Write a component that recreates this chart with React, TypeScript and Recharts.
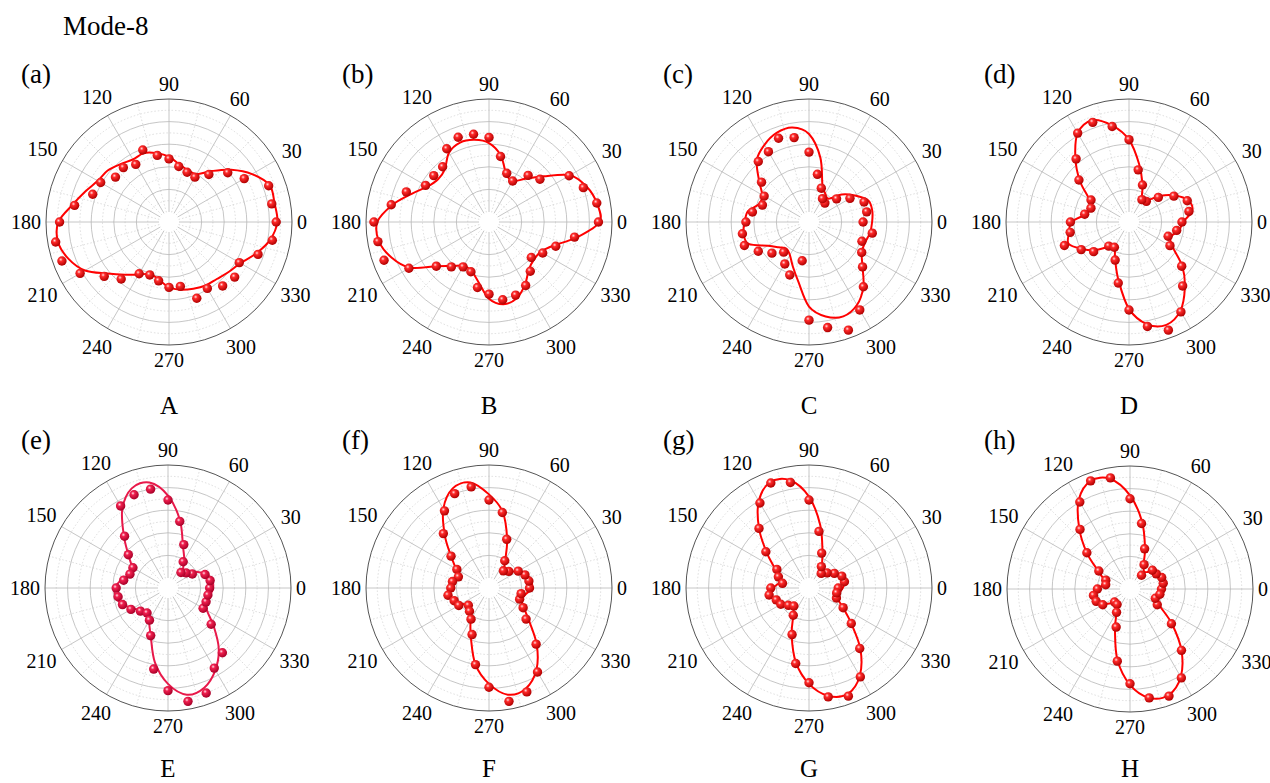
import { RadarChart, Radar, PolarGrid, PolarAngleAxis, PolarRadiusAxis } from "recharts";

const angles = [0, 10, 20, 30, 40, 50, 60, 70, 80, 90, 100, 110, 120, 130, 140, 150, 160, 170, 180, 190, 200, 210, 220, 230, 240, 250, 260, 270, 280, 290, 300, 310, 320, 330, 340, 350];
const tickAngles = [0, 30, 60, 90, 120, 150, 180, 210, 240, 270, 300, 330];

const pointsA = [0.86, 0.835, 0.85, 0.68, 0.59, 0.46, 0.37, 0.38, 0.41, 0.47, 0.51, 0.59, 0.5, 0.54, 0.53, 0.61, 0.63, 0.76, 0.88, 0.93, 0.92, 0.82, 0.66, 0.57, 0.44, 0.41, 0.44, 0.49, 0.49, 0.63, 0.59, 0.65, 0.67, 0.63, 0.75, 0.84];
const fitA = [0.87, 0.86, 0.86, 0.76, 0.63, 0.5, 0.4, 0.4, 0.43, 0.49, 0.53, 0.56, 0.55, 0.58, 0.62, 0.64, 0.7, 0.78, 0.89, 0.91, 0.86, 0.77, 0.62, 0.52, 0.45, 0.4, 0.43, 0.49, 0.52, 0.54, 0.56, 0.57, 0.6, 0.64, 0.73, 0.82];

const pointsB = [0.88, 0.88, 0.8, 0.73, 0.5, 0.45, 0.33, 0.37, 0.5, 0.66, 0.7, 0.71, 0.66, 0.55, 0.55, 0.56, 0.69, 0.79, 0.93, 0.91, 0.9, 0.73, 0.52, 0.43, 0.37, 0.38, 0.5, 0.55, 0.61, 0.6, 0.56, 0.48, 0.4, 0.46, 0.54, 0.68];
const fitB = [0.89, 0.88, 0.83, 0.74, 0.54, 0.41, 0.33, 0.36, 0.51, 0.61, 0.65, 0.66, 0.62, 0.52, 0.5, 0.54, 0.64, 0.78, 0.9, 0.9, 0.83, 0.72, 0.52, 0.42, 0.36, 0.37, 0.45, 0.59, 0.65, 0.63, 0.55, 0.46, 0.43, 0.44, 0.52, 0.7];

const pointsC = [0.39, 0.43, 0.43, 0.33, 0.23, 0.13, 0.15, 0.23, 0.34, 0.53, 0.67, 0.7, 0.63, 0.61, 0.46, 0.37, 0.35, 0.42, 0.47, 0.51, 0.52, 0.43, 0.34, 0.26, 0.34, 0.41, 0.26, 0.78, 0.86, 0.93, 0.81, 0.66, 0.53, 0.45, 0.41, 0.48];
const fitC = [0.47, 0.48, 0.47, 0.38, 0.29, 0.18, 0.2, 0.26, 0.49, 0.69, 0.76, 0.75, 0.7, 0.63, 0.49, 0.39, 0.38, 0.46, 0.48, 0.5, 0.48, 0.33, 0.26, 0.22, 0.25, 0.33, 0.45, 0.66, 0.76, 0.8, 0.76, 0.66, 0.53, 0.45, 0.44, 0.46];

const pointsD = [0.38, 0.45, 0.46, 0.37, 0.25, 0.15, 0.14, 0.26, 0.38, 0.64, 0.77, 0.85, 0.82, 0.64, 0.49, 0.3, 0.27, 0.31, 0.43, 0.44, 0.52, 0.4, 0.32, 0.19, 0.17, 0.27, 0.46, 0.69, 0.85, 0.93, 0.83, 0.65, 0.52, 0.33, 0.28, 0.34];
const fitD = [0.39, 0.48, 0.47, 0.38, 0.27, 0.16, 0.14, 0.26, 0.43, 0.64, 0.78, 0.87, 0.82, 0.65, 0.48, 0.32, 0.27, 0.3, 0.42, 0.45, 0.48, 0.39, 0.3, 0.2, 0.17, 0.27, 0.44, 0.68, 0.83, 0.88, 0.82, 0.68, 0.53, 0.36, 0.3, 0.36];

const pointsE = [0.28, 0.29, 0.26, 0.16, 0.12, 0.09, 0.18, 0.32, 0.51, 0.69, 0.8, 0.79, 0.75, 0.51, 0.37, 0.27, 0.27, 0.31, 0.37, 0.36, 0.34, 0.29, 0.23, 0.2, 0.24, 0.36, 0.64, 0.82, 0.93, 0.9, 0.73, 0.66, 0.41, 0.27, 0.27, 0.27];
const fitE = [0.31, 0.31, 0.27, 0.2, 0.13, 0.12, 0.2, 0.3, 0.52, 0.73, 0.86, 0.85, 0.72, 0.52, 0.37, 0.28, 0.27, 0.33, 0.38, 0.38, 0.34, 0.27, 0.22, 0.2, 0.25, 0.36, 0.58, 0.76, 0.87, 0.85, 0.75, 0.61, 0.44, 0.31, 0.28, 0.29];

const pointsF = [0.27, 0.27, 0.25, 0.21, 0.14, 0.11, 0.19, 0.37, 0.59, 0.69, 0.82, 0.8, 0.7, 0.54, 0.35, 0.24, 0.2, 0.24, 0.25, 0.28, 0.24, 0.22, 0.15, 0.18, 0.23, 0.35, 0.6, 0.79, 0.93, 0.89, 0.77, 0.56, 0.34, 0.26, 0.2, 0.2];
const fitF = [0.29, 0.29, 0.26, 0.2, 0.14, 0.12, 0.2, 0.38, 0.6, 0.74, 0.86, 0.85, 0.72, 0.52, 0.35, 0.25, 0.22, 0.24, 0.27, 0.28, 0.25, 0.19, 0.15, 0.17, 0.24, 0.38, 0.6, 0.76, 0.87, 0.86, 0.75, 0.57, 0.38, 0.27, 0.22, 0.24];

const pointsG = [0.17, 0.23, 0.22, 0.17, 0.12, 0.08, 0.13, 0.24, 0.42, 0.69, 0.86, 0.9, 0.78, 0.6, 0.41, 0.24, 0.2, 0.15, 0.25, 0.27, 0.22, 0.2, 0.15, 0.12, 0.19, 0.35, 0.59, 0.75, 0.89, 0.93, 0.82, 0.61, 0.4, 0.26, 0.17, 0.16];
const fitG = [0.21, 0.23, 0.22, 0.17, 0.12, 0.1, 0.14, 0.26, 0.48, 0.72, 0.88, 0.91, 0.8, 0.6, 0.4, 0.26, 0.19, 0.18, 0.23, 0.25, 0.22, 0.19, 0.15, 0.13, 0.19, 0.36, 0.58, 0.76, 0.88, 0.91, 0.81, 0.62, 0.4, 0.26, 0.18, 0.18];

const pointsH = [0.19, 0.21, 0.21, 0.18, 0.17, 0.07, 0.16, 0.29, 0.5, 0.71, 0.91, 0.93, 0.8, 0.6, 0.41, 0.23, 0.14, 0.13, 0.2, 0.24, 0.23, 0.19, 0.09, 0.09, 0.15, 0.27, 0.56, 0.75, 0.89, 0.92, 0.82, 0.62, 0.39, 0.19, 0.15, 0.18];
const fitH = [0.2, 0.22, 0.21, 0.18, 0.15, 0.11, 0.15, 0.3, 0.52, 0.74, 0.9, 0.93, 0.82, 0.61, 0.41, 0.24, 0.16, 0.15, 0.2, 0.23, 0.22, 0.17, 0.11, 0.1, 0.15, 0.3, 0.55, 0.76, 0.89, 0.91, 0.81, 0.62, 0.4, 0.22, 0.16, 0.18];

const FONT = "'Liberation Serif', 'Times New Roman', serif";
const W = 320;
const H = 340;
const CX = 160;
const CY = 170;
const R = 123;
const HOLE = 10;

// ring radii in px, alternating dotted / solid
const ringStep = (R - HOLE) / 10;
const minorRings = [1, 3, 5, 7, 9].map((k) => HOLE + k * ringStep);
const majorRings = [2, 4, 6, 8].map((k) => HOLE + k * ringStep);
const minorSpokes = tickAngles.map((a) => a + 15);

const panels = [
  { tag: "(a)", name: "A", x: 169, y: 222, pts: pointsA, fit: fitA, color: "#ff0000", grad: "ballRed" },
  { tag: "(b)", name: "B", x: 489, y: 222, pts: pointsB, fit: fitB, color: "#ff0000", grad: "ballRed" },
  { tag: "(c)", name: "C", x: 809, y: 222, pts: pointsC, fit: fitC, color: "#ff0000", grad: "ballRed" },
  { tag: "(d)", name: "D", x: 1129, y: 222, pts: pointsD, fit: fitD, color: "#ff0000", grad: "ballRed" },
  { tag: "(e)", name: "E", x: 168, y: 588, pts: pointsE, fit: fitE, color: "#e8194a", grad: "ballCrimson" },
  { tag: "(f)", name: "F", x: 489, y: 588, pts: pointsF, fit: fitF, color: "#ff0000", grad: "ballRed" },
  { tag: "(g)", name: "G", x: 809, y: 588, pts: pointsG, fit: fitG, color: "#ff0000", grad: "ballRed" },
  { tag: "(h)", name: "H", x: 1130, y: 589, pts: pointsH, fit: fitH, color: "#ff0000", grad: "ballRed" },
];

// closed catmull-rom path through the radar vertices
function smoothPath(pts: { x: number; y: number }[]) {
  const n = pts.length;
  if (!n) return "";
  let d = `M${pts[0].x},${pts[0].y}`;
  for (let i = 0; i < n; i++) {
    const p0 = pts[(i - 1 + n) % n];
    const p1 = pts[i];
    const p2 = pts[(i + 1) % n];
    const p3 = pts[(i + 2) % n];
    const c1x = p1.x + (p2.x - p0.x) / 6;
    const c1y = p1.y + (p2.y - p0.y) / 6;
    const c2x = p2.x - (p3.x - p1.x) / 6;
    const c2y = p2.y - (p3.y - p1.y) / 6;
    d += ` C${c1x},${c1y} ${c2x},${c2y} ${p2.x},${p2.y}`;
  }
  return d + " Z";
}

const AngleTick = (props: any) => {
  const v = Number(props.payload?.value);
  const rad = (v * Math.PI) / 180;
  const c = Math.cos(rad);
  const s = Math.sin(rad);
  const w = String(v).length * 10;
  const r = 128 + Math.abs(c) * (w / 2) + Math.abs(s) * 10;
  return (
    <text
      x={CX + r * c}
      y={CY - r * s}
      textAnchor="middle"
      dominantBaseline="central"
      fontFamily={FONT}
      fontSize={20}
      fill="#000"
    >
      {v}
    </text>
  );
};

function Panel({ p }: { p: (typeof panels)[number] }) {
  const data = angles.map((angle, i) => ({ angle, point: p.pts[i], fit: p.fit[i] }));
  const ball = (props: any) => {
    if (props.cx == null || props.cy == null) return <g key={props.key} />;
    return <circle key={`b-${props.index}`} cx={props.cx} cy={props.cy} r={4.7} fill={`url(#${p.grad})`} />;
  };
  return (
    <div style={{ position: "absolute", left: p.x - CX, top: p.y - CY, width: W, height: H }}>
      <RadarChart
        width={W}
        height={H}
        data={data}
        cx={CX}
        cy={CY}
        innerRadius={HOLE}
        outerRadius={R}
        startAngle={0}
        endAngle={360}
        margin={{ top: 0, right: 0, bottom: 0, left: 0 }}
      >
        <PolarGrid
          gridType="circle"
          cx={CX}
          cy={CY}
          innerRadius={HOLE}
          outerRadius={R}
          polarAngles={minorSpokes}
          polarRadius={minorRings}
          stroke="#d4d4d4"
          strokeDasharray="1.5 2"
          strokeWidth={0.8}
        />
        <PolarGrid
          gridType="circle"
          cx={CX}
          cy={CY}
          innerRadius={HOLE}
          outerRadius={R}
          polarAngles={tickAngles}
          polarRadius={majorRings}
          stroke="#b8b8b8"
          strokeWidth={0.8}
        />
        <PolarGrid
          gridType="circle"
          cx={CX}
          cy={CY}
          innerRadius={HOLE}
          outerRadius={R}
          radialLines={false}
          polarAngles={tickAngles}
          polarRadius={[R]}
          stroke="#555"
          strokeWidth={1}
        />
        <PolarAngleAxis
          dataKey="angle"
          type="number"
          domain={[0, 360]}
          ticks={tickAngles}
          tick={AngleTick}
          axisLine={false}
          tickLine={false}
        />
        <PolarRadiusAxis type="number" domain={[0.081, 1]} allowDataOverflow tick={false} axisLine={false} />
        <Radar
          dataKey="fit"
          stroke={p.color}
          strokeWidth={2}
          fill="none"
          fillOpacity={0}
          dot={false}
          isAnimationActive={false}
          shape={(sp: any) => (
            <path d={smoothPath(sp.points || [])} fill="none" stroke={p.color} strokeWidth={2} />
          )}
        />
        <Radar
          dataKey="point"
          stroke="none"
          fill="none"
          fillOpacity={0}
          strokeOpacity={0}
          dot={ball}
          isAnimationActive={false}
        />
      </RadarChart>
    </div>
  );
}

export default function App() {
  return (
    <div style={{ position: "absolute", left: 0, top: 0, width: 1270, height: 783, background: "#fff", overflow: "hidden" }}>
      <svg width={0} height={0} style={{ position: "absolute" }}>
        <defs>
          <radialGradient id="ballRed" cx="38%" cy="35%" r="65%">
            <stop offset="0%" stopColor="#ffe0e0" />
            <stop offset="30%" stopColor="#ff2a2a" />
            <stop offset="100%" stopColor="#b00000" />
          </radialGradient>
          <radialGradient id="ballCrimson" cx="38%" cy="35%" r="65%">
            <stop offset="0%" stopColor="#ffe0e8" />
            <stop offset="30%" stopColor="#f0204f" />
            <stop offset="100%" stopColor="#a80028" />
          </radialGradient>
        </defs>
      </svg>
      {panels.map((p) => (
        <Panel key={p.tag} p={p} />
      ))}
      <svg width={1270} height={783} style={{ position: "absolute", left: 0, top: 0, pointerEvents: "none" }}>
        <text x={63} y={35} fontFamily={FONT} fontSize={27} fill="#000">
          Mode-8
        </text>
        {panels.map((p, i) => (
          <g key={p.name}>
            <text x={[21, 342, 663, 984][i % 4]} y={i < 4 ? 83 : 449} fontFamily={FONT} fontSize={27} fill="#000">
              {p.tag}
            </text>
            <text x={p.x} y={i < 4 ? 414 : 777} textAnchor="middle" fontFamily={FONT} fontSize={25} fill="#000">
              {p.name}
            </text>
          </g>
        ))}
      </svg>
    </div>
  );
}
